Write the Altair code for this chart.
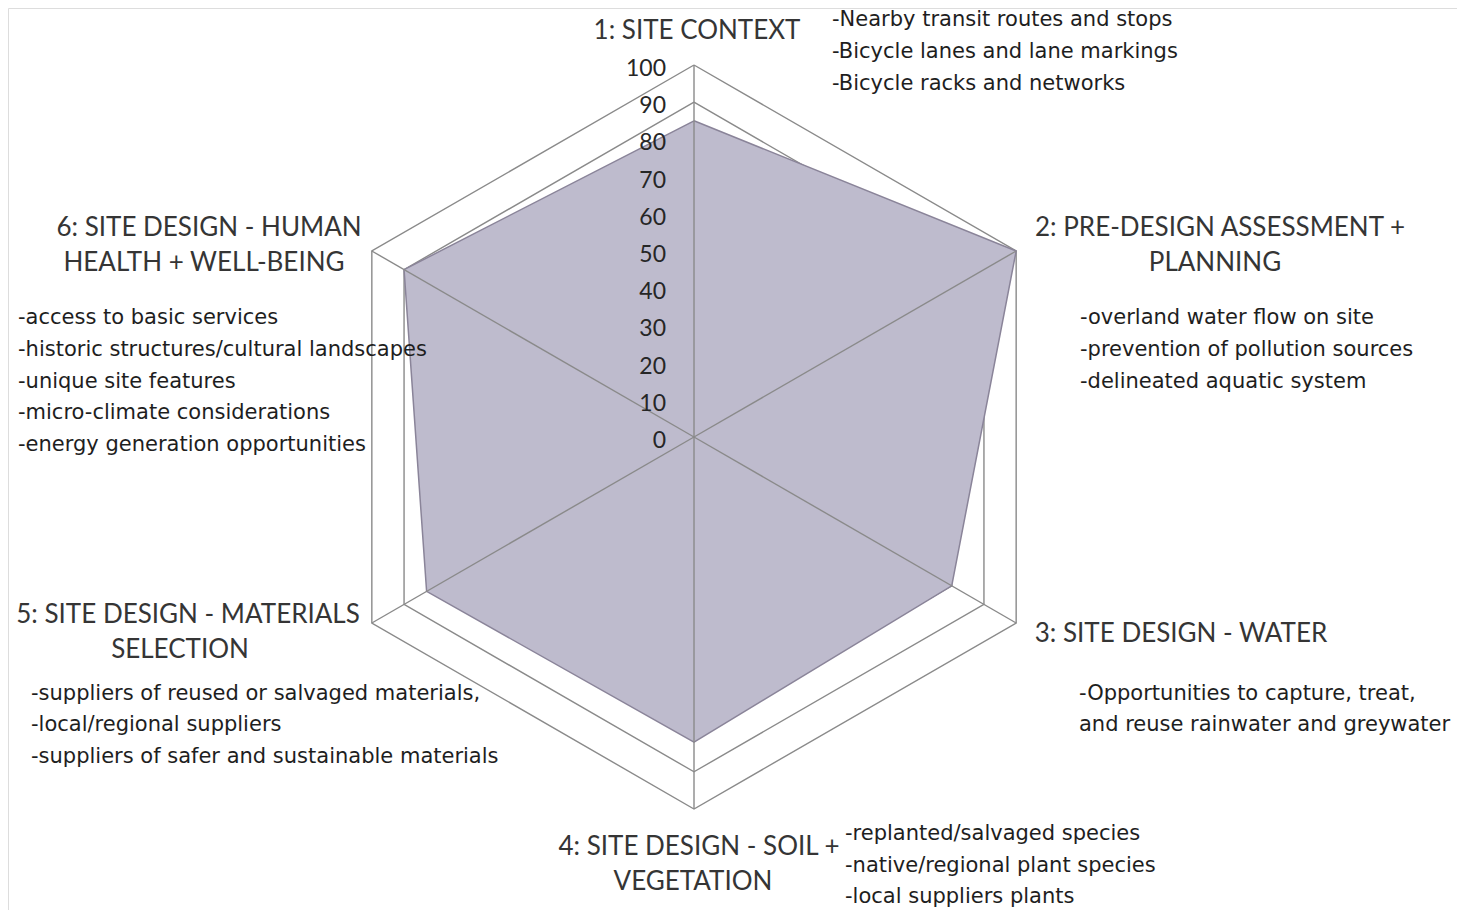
import altair as alt
import pandas as pd

# ---------------- data ----------------
categories = [
    "1: SITE CONTEXT",
    "2: PRE-DESIGN ASSESSMENT + PLANNING",
    "3: SITE DESIGN - WATER",
    "4: SITE DESIGN - SOIL + VEGETATION",
    "5: SITE DESIGN - MATERIALS SELECTION",
    "6: SITE DESIGN - HUMAN HEALTH + WELL-BEING",
]
scores = [85, 100, 80, 82, 83, 90]
tick_levels = [0, 10, 20, 30, 40, 50, 60, 70, 80, 90, 100]
tick_labels = [str(v) for v in tick_levels]

# category label lines (as printed)
label_lines = [
    ["1: SITE CONTEXT"],
    ["2: PRE-DESIGN ASSESSMENT +", "PLANNING"],
    ["3: SITE DESIGN - WATER"],
    ["4: SITE DESIGN - SOIL +", "VEGETATION"],
    ["5: SITE DESIGN - MATERIALS", "SELECTION"],
    ["6: SITE DESIGN - HUMAN", "HEALTH + WELL-BEING"],
]
desc_site_context = ["-Nearby transit routes and stops", "-Bicycle lanes and lane markings",
                     "-Bicycle racks and networks"]
desc_predesign = ["-overland water flow on site", "-prevention of pollution sources",
                  "-delineated aquatic system"]
desc_water = ["-Opportunities to capture, treat,", "and reuse rainwater and greywater"]
desc_soil = ["-replanted/salvaged species", "-native/regional plant species",
             "-local suppliers plants"]
desc_materials = ["-suppliers of reused or salvaged materials,", "-local/regional suppliers",
                  "-suppliers of safer and sustainable materials"]
desc_health = ["-access to basic services", "-historic structures/cultural landscapes",
               "-unique site features", "-micro-climate considerations",
               "-energy generation opportunities"]

# ---------------- layout ----------------
W, H = 1449, 902
CX, CY = 686, 429          # chart centre (chart pixel coords)
PXU = 3.72                 # pixels per score unit
xs = alt.Scale(domain=[-CX / PXU, (W - CX) / PXU], nice=False, zero=False)
ys = alt.Scale(domain=[(CY - H) / PXU, CY / PXU], nice=False, zero=False)

GRID = "#8a8a8a"
FILL = "#bebbcd"
OUTLINE = "#8a8499"

# label anchors (page pixel centres) -> chart pixels
label_pos = [
    [(697, 31)],
    [(1220, 228), (1215, 263)],
    [(1181, 634)],
    [(699, 847), (693, 882)],
    [(188, 615), (180, 650)],
    [(209, 228), (204, 263)],
]
desc_blocks = [
    (desc_site_context, 832, [20, 52, 84]),
    (desc_predesign, 1080, [318, 350, 382]),
    (desc_water, 1079, [694, 725]),
    (desc_soil, 845, [834, 866, 897]),
    (desc_materials, 31, [694, 725, 757]),
    (desc_health, 18, [318, 350, 382, 413, 445]),
]

# ---------------- tables ----------------
ring_rows = []
for lev in tick_levels[1:]:
    for k in range(7):
        ring_rows.append({"level": lev, "idx": k % 6, "k": k})
ring_df = pd.DataFrame(ring_rows)

poly_df = pd.DataFrame([
    {"k": k, "idx": k % 6, "score": scores[k % 6], "category": categories[k % 6]}
    for k in range(7)
])
spoke_df = pd.DataFrame({"idx": list(range(6)), "level": [tick_levels[-1]] * 6})
tick_df = pd.DataFrame({"level": tick_levels, "label": tick_labels})

lab_rows = []
for lines, poss in zip(label_lines, label_pos):
    for t, (px, py) in zip(lines, poss):
        lab_rows.append({"text": t, "px": px - 8, "py": py - 8})
lab_df = pd.DataFrame(lab_rows)

desc_rows = []
for lines, px, pys in desc_blocks:
    for t, py in zip(lines, pys):
        desc_rows.append({"text": t, "px": px - 8, "py": py - 8})
desc_df = pd.DataFrame(desc_rows)


def polar(chart, rfield):
    return (chart
            .transform_calculate(ang="(90 - 60 * datum.idx) * PI / 180")
            .transform_calculate(x="datum." + rfield + " * cos(datum.ang)")
            .transform_calculate(y="datum." + rfield + " * sin(datum.ang)"))


X = alt.X("x:Q", scale=xs, axis=None)
Y = alt.Y("y:Q", scale=ys, axis=None)

rings = polar(alt.Chart(ring_df), "level").mark_line(
    stroke=GRID, strokeWidth=1.4).encode(x=X, y=Y, detail="level:N", order="k:Q")

area = polar(alt.Chart(poly_df), "score").mark_line(
    fill=FILL, fillOpacity=1, stroke=OUTLINE, strokeWidth=1.5).encode(
    x=X, y=Y, order="k:Q")

spokes = (alt.Chart(spoke_df)
          .transform_calculate(ang="(90 - 60 * datum.idx) * PI / 180")
          .transform_calculate(x0="0", y0="0")
          .transform_calculate(x1="datum.level * cos(datum.ang)")
          .transform_calculate(y1="datum.level * sin(datum.ang)")
          .mark_rule(stroke=GRID, strokeWidth=1.4)
          .encode(x=alt.X("x0:Q", scale=xs, axis=None), y=alt.Y("y0:Q", scale=ys, axis=None),
                  x2="x1:Q", y2="y1:Q"))

ticks = (alt.Chart(tick_df)
         .transform_calculate(x0="0")
         .mark_text(align="right", baseline="middle", dx=-28, dy=4, font="Lato",
                    fontSize=23, color="#262626")
         .encode(x=alt.X("x0:Q", scale=xs, axis=None),
                 y=alt.Y("level:Q", scale=ys, axis=None), text="label:N"))

labels = (alt.Chart(lab_df)
          .mark_text(align="center", baseline="middle", font="Lato", fontSize=26,
                     color="#353535")
          .encode(x=alt.X("px:Q", scale=None), y=alt.Y("py:Q", scale=None), text="text:N"))

descs = (alt.Chart(desc_df)
         .mark_text(align="left", baseline="middle", font="DejaVu Sans", fontSize=21,
                    color="#1e1e1e")
         .encode(x=alt.X("px:Q", scale=None), y=alt.Y("py:Q", scale=None), text="text:N"))

chart = (alt.layer(rings, area, spokes, ticks, labels, descs)
         .properties(width=W, height=H, padding=0,
                     autosize=alt.AutoSizeParams(type="none"))
         .configure_view(stroke="transparent", strokeWidth=0)
         .configure(background="white"))

chart.save("out.html", embed_options={"renderer": "svg", "actions": False})
